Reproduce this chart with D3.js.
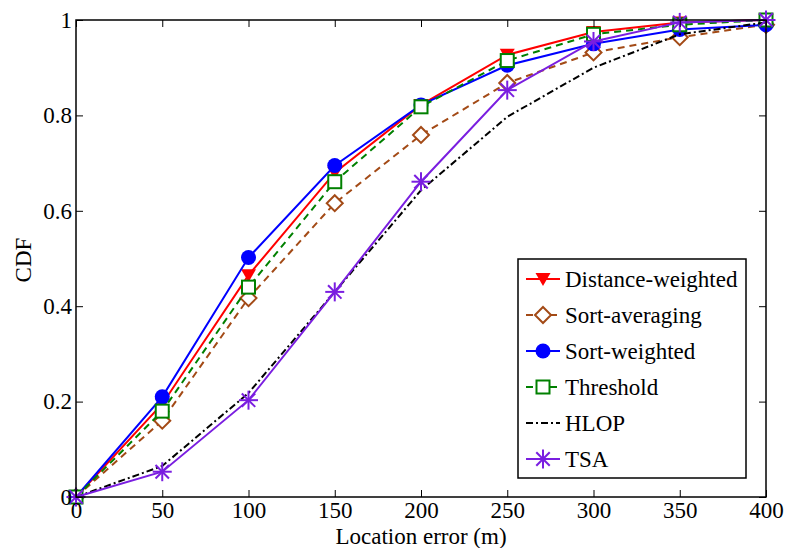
<!DOCTYPE html>
<html>
<head>
<meta charset="utf-8">
<script src="https://cdn.jsdelivr.net/npm/d3@7"></script>
<style>
  body { margin: 0; background: #fff; }
</style>
</head>
<body>
<script>
var width = 787;
var height = 548;
var margin = {left: 76, right: 21, top: 20, bottom: 51};
var serif = "'Liberation Serif', 'Times New Roman', Times, 'DejaVu Serif', serif";

var xs = [0, 50, 100, 150, 200, 250, 300, 350, 400];
var distWeighted = [0, 0.195, 0.465, 0.68, 0.822, 0.927, 0.975, 0.995, 1.0];
var sortAveraging = [0, 0.16, 0.417, 0.616, 0.759, 0.868, 0.932, 0.964, 0.99];
var sortWeighted = [0, 0.21, 0.502, 0.695, 0.822, 0.905, 0.95, 0.98, 0.99];
var threshold = [0, 0.18, 0.44, 0.661, 0.818, 0.915, 0.97, 0.99, 1.0];
var hlop = [0, 0.065, 0.218, 0.43, 0.643, 0.797, 0.90, 0.97, 0.995];
var tsa = [0, 0.053, 0.203, 0.43, 0.661, 0.853, 0.955, 0.995, 1.0];

var xTicks = [0, 50, 100, 150, 200, 250, 300, 350, 400];
var yTicks = [0, 0.2, 0.4, 0.6, 0.8, 1];
var yTickLabels = ["0", "0.2", "0.4", "0.6", "0.8", "1"];

var series = [
  {name: "Distance-weighted", values: distWeighted, color: "#ff0000", dash: null, marker: "triangle"},
  {name: "Sort-averaging", values: sortAveraging, color: "#a34a16", dash: "7,5", marker: "diamond"},
  {name: "Sort-weighted", values: sortWeighted, color: "#0000ff", dash: null, marker: "circle"},
  {name: "Threshold", values: threshold, color: "#008000", dash: "7,5", marker: "square"},
  {name: "HLOP", values: hlop, color: "#000000", dash: "7,3,2,3", marker: null},
  {name: "TSA", values: tsa, color: "#7a1ee0", dash: null, marker: "star"}
];

var svg = d3.select("body").append("svg")
    .attr("width", width)
    .attr("height", height)
    .style("font-family", serif);

var x = d3.scaleLinear().domain([0, 400]).range([margin.left, width - margin.right]);
var y = d3.scaleLinear().domain([0, 1]).range([height - margin.bottom, margin.top]);

// markers
function drawMarker(g, type, cx, cy, color) {
  if (type == "circle") {
    g.append("circle").attr("cx", cx).attr("cy", cy).attr("r", 7.5).attr("fill", color);
  } else if (type == "triangle") {
    g.append("path")
      .attr("d", "M" + (cx - 7.5) + "," + (cy - 6) + "L" + (cx + 7.5) + "," + (cy - 6) + "L" + cx + "," + (cy + 7) + "Z")
      .attr("fill", color);
  } else if (type == "diamond") {
    g.append("path")
      .attr("d", "M" + cx + "," + (cy - 8) + "L" + (cx + 8) + "," + cy + "L" + cx + "," + (cy + 8) + "L" + (cx - 8) + "," + cy + "Z")
      .attr("fill", "#fff").attr("stroke", color).attr("stroke-width", 2);
  } else if (type == "square") {
    g.append("rect").attr("x", cx - 6.5).attr("y", cy - 6.5).attr("width", 13).attr("height", 13)
      .attr("fill", "#fff").attr("stroke", color).attr("stroke-width", 2);
  } else if (type == "star") {
    var r = 9.5;
    for (var k = 0; k < 4; k++) {
      var a = k * Math.PI / 4;
      g.append("line")
        .attr("x1", cx - r * Math.cos(a)).attr("y1", cy - r * Math.sin(a))
        .attr("x2", cx + r * Math.cos(a)).attr("y2", cy + r * Math.sin(a))
        .attr("stroke", color).attr("stroke-width", 2);
    }
  }
}

var line = d3.line()
  .x(function(d) { return x(d[0]); })
  .y(function(d) { return y(d[1]); });

var plot = svg.append("g");
series.forEach(function(s) {
  var pts = xs.map(function(v, i) { return [v, s.values[i]]; });
  plot.append("path")
    .datum(pts)
    .attr("d", line)
    .attr("fill", "none")
    .attr("stroke", s.color)
    .attr("stroke-width", 2)
    .attr("stroke-dasharray", s.dash);
  if (s.marker) {
    pts.forEach(function(p) {
      drawMarker(plot, s.marker, x(p[0]), y(p[1]), s.color);
    });
  }
});

// axes
var fs = "23px";
function fixText(g) {
  g.attr("font-family", null).attr("font-size", null);
  g.select(".domain").remove();
  g.selectAll("text").style("font-size", fs).style("font-family", serif).attr("fill", "#000");
}
svg.append("g")
  .attr("transform", "translate(0," + (height - margin.bottom) + ")")
  .call(d3.axisBottom(x).tickValues(xTicks).tickSize(-7).tickPadding(5).tickFormat(d3.format("d")))
  .call(fixText);
svg.append("g")
  .attr("transform", "translate(0," + margin.top + ")")
  .call(d3.axisTop(x).tickValues(xTicks).tickSize(-7).tickFormat(""))
  .call(fixText);
svg.append("g")
  .attr("transform", "translate(" + margin.left + ",0)")
  .call(d3.axisLeft(y).tickValues(yTicks).tickSize(-7).tickPadding(4)
        .tickFormat(function(d, i) { return yTickLabels[i]; }))
  .call(fixText);
svg.append("g")
  .attr("transform", "translate(" + (width - margin.right) + ",0)")
  .call(d3.axisRight(y).tickValues(yTicks).tickSize(-7).tickFormat(""))
  .call(fixText);

svg.selectAll(".tick line").attr("stroke", "#000");

svg.append("rect")
  .attr("x", margin.left).attr("y", margin.top)
  .attr("width", width - margin.left - margin.right)
  .attr("height", height - margin.top - margin.bottom)
  .attr("fill", "none").attr("stroke", "#000").attr("stroke-width", 1.5);

// labels
svg.append("text")
  .attr("x", (margin.left + width - margin.right) / 2)
  .attr("y", 544)
  .attr("text-anchor", "middle")
  .style("font-size", fs)
  .text("Location error (m)");
svg.append("text")
  .attr("transform", "translate(31,260) rotate(-90)")
  .attr("text-anchor", "middle")
  .style("font-size", fs)
  .text("CDF");

// legend
var lg = svg.append("g");
lg.append("rect")
  .attr("x", 518).attr("y", 259).attr("width", 228).attr("height", 219)
  .attr("fill", "#fff").attr("stroke", "#000").attr("stroke-width", 1.5);
series.forEach(function(s, i) {
  var cy = 279 + i * 36;
  lg.append("line")
    .attr("x1", 526).attr("x2", 560).attr("y1", cy).attr("y2", cy)
    .attr("stroke", s.color).attr("stroke-width", 2)
    .attr("stroke-dasharray", s.dash);
  if (s.marker) drawMarker(lg, s.marker, 543, cy, s.color);
  lg.append("text")
    .attr("x", 565).attr("y", cy + 8)
    .style("font-size", fs)
    .text(s.name);
});
</script>
</body>
</html>
